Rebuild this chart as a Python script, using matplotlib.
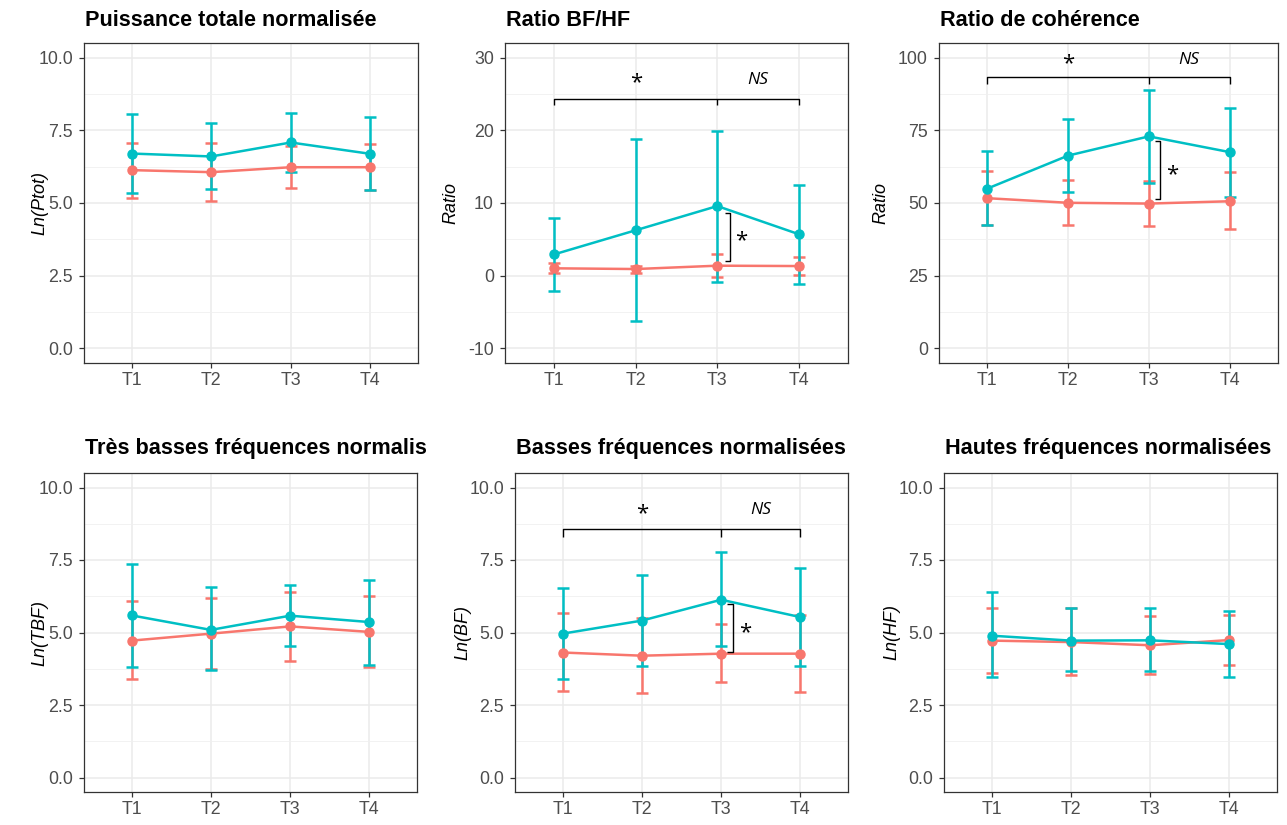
import matplotlib
matplotlib.use("Agg")
import matplotlib.pyplot as plt
from matplotlib.ticker import FixedLocator

# ---------------- data ----------------
times = ["T1", "T2", "T3", "T4"]
RED = "#F8766D"
TEAL = "#00BFC4"

# the 4th title is cut off at the panel edge in the original figure
titles = ["Puissance totale normalisée", "Ratio BF/HF", "Ratio de cohérence",
          "Très basses fréquences normalis", "Basses fréquences normalisées",
          "Hautes fréquences normalisées"]
ylabels = ["Ln(Ptot)", "Ratio", "Ratio", "Ln(TBF)", "Ln(BF)", "Ln(HF)"]

# Panel 1: Ptot
ptot_red = [6.13, 6.06, 6.23, 6.23]
ptot_red_lo = [5.18, 5.07, 5.50, 5.45]
ptot_red_hi = [7.07, 7.06, 6.95, 7.03]
ptot_teal = [6.70, 6.60, 7.08, 6.69]
ptot_teal_lo = [5.36, 5.47, 6.05, 5.44]
ptot_teal_hi = [8.05, 7.76, 8.11, 7.94]

# Panel 2: BF/HF ratio
bfhf_red = [1.02, 0.92, 1.38, 1.33]
bfhf_red_lo = [0.33, 0.43, -0.12, 0.06]
bfhf_red_hi = [1.74, 1.38, 2.93, 2.52]
bfhf_teal = [2.93, 6.25, 9.58, 5.70]
bfhf_teal_lo = [-2.08, -6.26, -0.80, -1.07]
bfhf_teal_hi = [7.94, 18.76, 19.95, 12.48]

# Panel 3: coherence ratio
coh_red = [51.65, 50.07, 49.8, 50.6]
coh_red_lo = [42.6, 42.5, 42.1, 40.9]
coh_red_hi = [60.9, 57.8, 57.6, 60.6]
coh_teal = [54.97, 66.3, 72.9, 67.5]
coh_teal_lo = [42.4, 53.7, 56.9, 52.1]
coh_teal_hi = [68.0, 78.9, 88.9, 82.7]

# Panel 4: TBF
tbf_red = [4.72, 4.96, 5.21, 5.02]
tbf_red_lo = [3.39, 3.74, 4.03, 3.81]
tbf_red_hi = [6.09, 6.20, 6.39, 6.27]
tbf_teal = [5.59, 5.09, 5.58, 5.36]
tbf_teal_lo = [3.81, 3.70, 4.52, 3.89]
tbf_teal_hi = [7.37, 6.57, 6.64, 6.82]

# Panel 5: BF
bf_red = [4.31, 4.20, 4.27, 4.27]
bf_red_lo = [2.98, 2.90, 3.29, 2.94]
bf_red_hi = [5.67, 5.50, 5.30, 5.62]
bf_teal = [4.96, 5.41, 6.13, 5.53]
bf_teal_lo = [3.39, 3.86, 4.52, 3.85]
bf_teal_hi = [6.53, 7.00, 7.77, 7.21]

# Panel 6: HF
hf_red = [4.72, 4.67, 4.56, 4.74]
hf_red_lo = [3.62, 3.52, 3.58, 3.89]
hf_red_hi = [5.86, 5.83, 5.58, 5.61]
hf_teal = [4.89, 4.72, 4.73, 4.60]
hf_teal_lo = [3.45, 3.67, 3.68, 3.46]
hf_teal_hi = [6.38, 5.83, 5.84, 5.75]

ylims = [(-0.5, 10.5), (-12, 32), (-5, 105), (-0.5, 10.5), (-0.5, 10.5), (-0.5, 10.5)]
yticks = [[0, 2.5, 5, 7.5, 10], [-10, 0, 10, 20, 30], [0, 25, 50, 75, 100],
          [0, 2.5, 5, 7.5, 10], [0, 2.5, 5, 7.5, 10], [0, 2.5, 5, 7.5, 10]]
yticklabels = [["0.0", "2.5", "5.0", "7.5", "10.0"], ["-10", "0", "10", "20", "30"],
               ["0", "25", "50", "75", "100"],
               ["0.0", "2.5", "5.0", "7.5", "10.0"], ["0.0", "2.5", "5.0", "7.5", "10.0"],
               ["0.0", "2.5", "5.0", "7.5", "10.0"]]

# significance annotations
sig_panels = [1, 2, 4]
sig_hlevel = [24.3, 93.3, 8.57]
sig_hdrop = [23.5, 90.9, 8.31]
sig_star_y = [26.5, 98.0, 9.1]
sig_ns_y = [26.9, 99.2, 9.23]
sig_vx = [3.16, 3.14, 3.15]
sig_vtop = [8.66, 71.2, 5.98]
sig_vbot = [2.01, 51.4, 4.33]
sig_vtick = [3.09, 3.08, 3.08]
sig_star2_x = [3.29, 3.29, 3.30]
sig_star2_y = [4.8, 59.8, 5.0]

series = [
    (ptot_red, ptot_red_lo, ptot_red_hi, ptot_teal, ptot_teal_lo, ptot_teal_hi),
    (bfhf_red, bfhf_red_lo, bfhf_red_hi, bfhf_teal, bfhf_teal_lo, bfhf_teal_hi),
    (coh_red, coh_red_lo, coh_red_hi, coh_teal, coh_teal_lo, coh_teal_hi),
    (tbf_red, tbf_red_lo, tbf_red_hi, tbf_teal, tbf_teal_lo, tbf_teal_hi),
    (bf_red, bf_red_lo, bf_red_hi, bf_teal, bf_teal_lo, bf_teal_hi),
    (hf_red, hf_red_lo, hf_red_hi, hf_teal, hf_teal_lo, hf_teal_hi),
]

# ---------------- layout ----------------
W, H = 1287, 825
fig = plt.figure(figsize=(W / 100, H / 100), dpi=100)
fig.patch.set_facecolor("white")
plt.rcParams["font.family"] = ["Liberation Sans", "DejaVu Sans"]

boxes = [(84, 43, 418, 363), (505, 43, 848, 363), (939, 43, 1278, 363),
         (84, 473, 417, 792), (515, 473, 848, 792), (944, 473, 1277, 792)]
ylabel_x = [40, 451, 881, 40, 463, 892]
title_y = [20, 20, 20, 449, 449, 449]

x = [1, 2, 3, 4]
ann_font = ["Open Sans", "DejaVu Sans"]

for i in range(6):
    l, t, r, b = boxes[i]
    ax = fig.add_axes([l / W, 1 - b / H, (r - l) / W, (b - t) / H])
    ax.set_xlim(0.4, 4.6)
    ax.set_ylim(*ylims[i])
    ax.set_xticks(x)
    ax.set_xticklabels(times)
    ax.set_yticks(yticks[i])
    ax.set_yticklabels(yticklabels[i])
    yt = yticks[i]
    step = yt[1] - yt[0]
    ax.yaxis.set_minor_locator(FixedLocator([v + step / 2 for v in yt[:-1]]))
    ax.grid(True, which="major", color="#EBEBEB", lw=1.1, zorder=0)
    ax.grid(True, which="minor", axis="y", color="#F0F0F0", lw=0.6, zorder=0)
    ax.set_axisbelow(True)
    for sp in ax.spines.values():
        sp.set_color("#333333")
        sp.set_linewidth(0.9)
    ax.tick_params(axis="both", which="major", length=3.5, width=0.9, color="#333333",
                   labelsize=12.8, labelcolor="#4D4D4D", pad=3.2)
    ax.tick_params(axis="y", which="major", pad=4.5)
    ax.tick_params(axis="both", which="minor", length=0)

    rm, rlo, rhi, tm, tlo, thi = series[i]
    for m, lo, hi, col in ((rm, rlo, rhi, RED), (tm, tlo, thi, TEAL)):
        yerr = [[mv - lv for mv, lv in zip(m, lo)], [hv - mv for mv, hv in zip(m, hi)]]
        ax.errorbar(x, m, yerr=yerr, color=col, lw=1.8, marker="o", ms=6.5,
                    capsize=4, capthick=1.8, elinewidth=1.8, zorder=3)

    fig.text(l / W + 0.0008, 1 - title_y[i] / H, titles[i], fontsize=15.6,
             fontweight="bold", ha="left", va="center", color="black")

    fig.text(ylabel_x[i] / W, 1 - ((t + b) / 2) / H, ylabels[i], rotation=90,
             fontsize=13, style="italic", ha="center", va="center", color="black")

    if i in sig_panels:
        k = sig_panels.index(i)
        hl, hd = sig_hlevel[k], sig_hdrop[k]
        kw = dict(color="black", lw=1.0, zorder=5, solid_capstyle="butt")
        ax.plot([1, 1, 4, 4], [hd, hl, hl, hd], **kw)
        ax.plot([3, 3], [hl, hd], **kw)
        ax.text(2.0, sig_star_y[k], "*", fontsize=16, ha="center", va="center",
                family=ann_font)
        ax.text(3.5, sig_ns_y[k], "NS", fontsize=12.5, style="italic", ha="center",
                va="center", family=ann_font)
        vx, vt, vb, vk = sig_vx[k], sig_vtop[k], sig_vbot[k], sig_vtick[k]
        ax.plot([vk, vx, vx, vk], [vt, vt, vb, vb], **kw)
        ax.text(sig_star2_x[k], sig_star2_y[k], "*", fontsize=16, ha="center",
                va="center", family=ann_font)

fig.savefig("out.png", dpi=100, facecolor="white")
